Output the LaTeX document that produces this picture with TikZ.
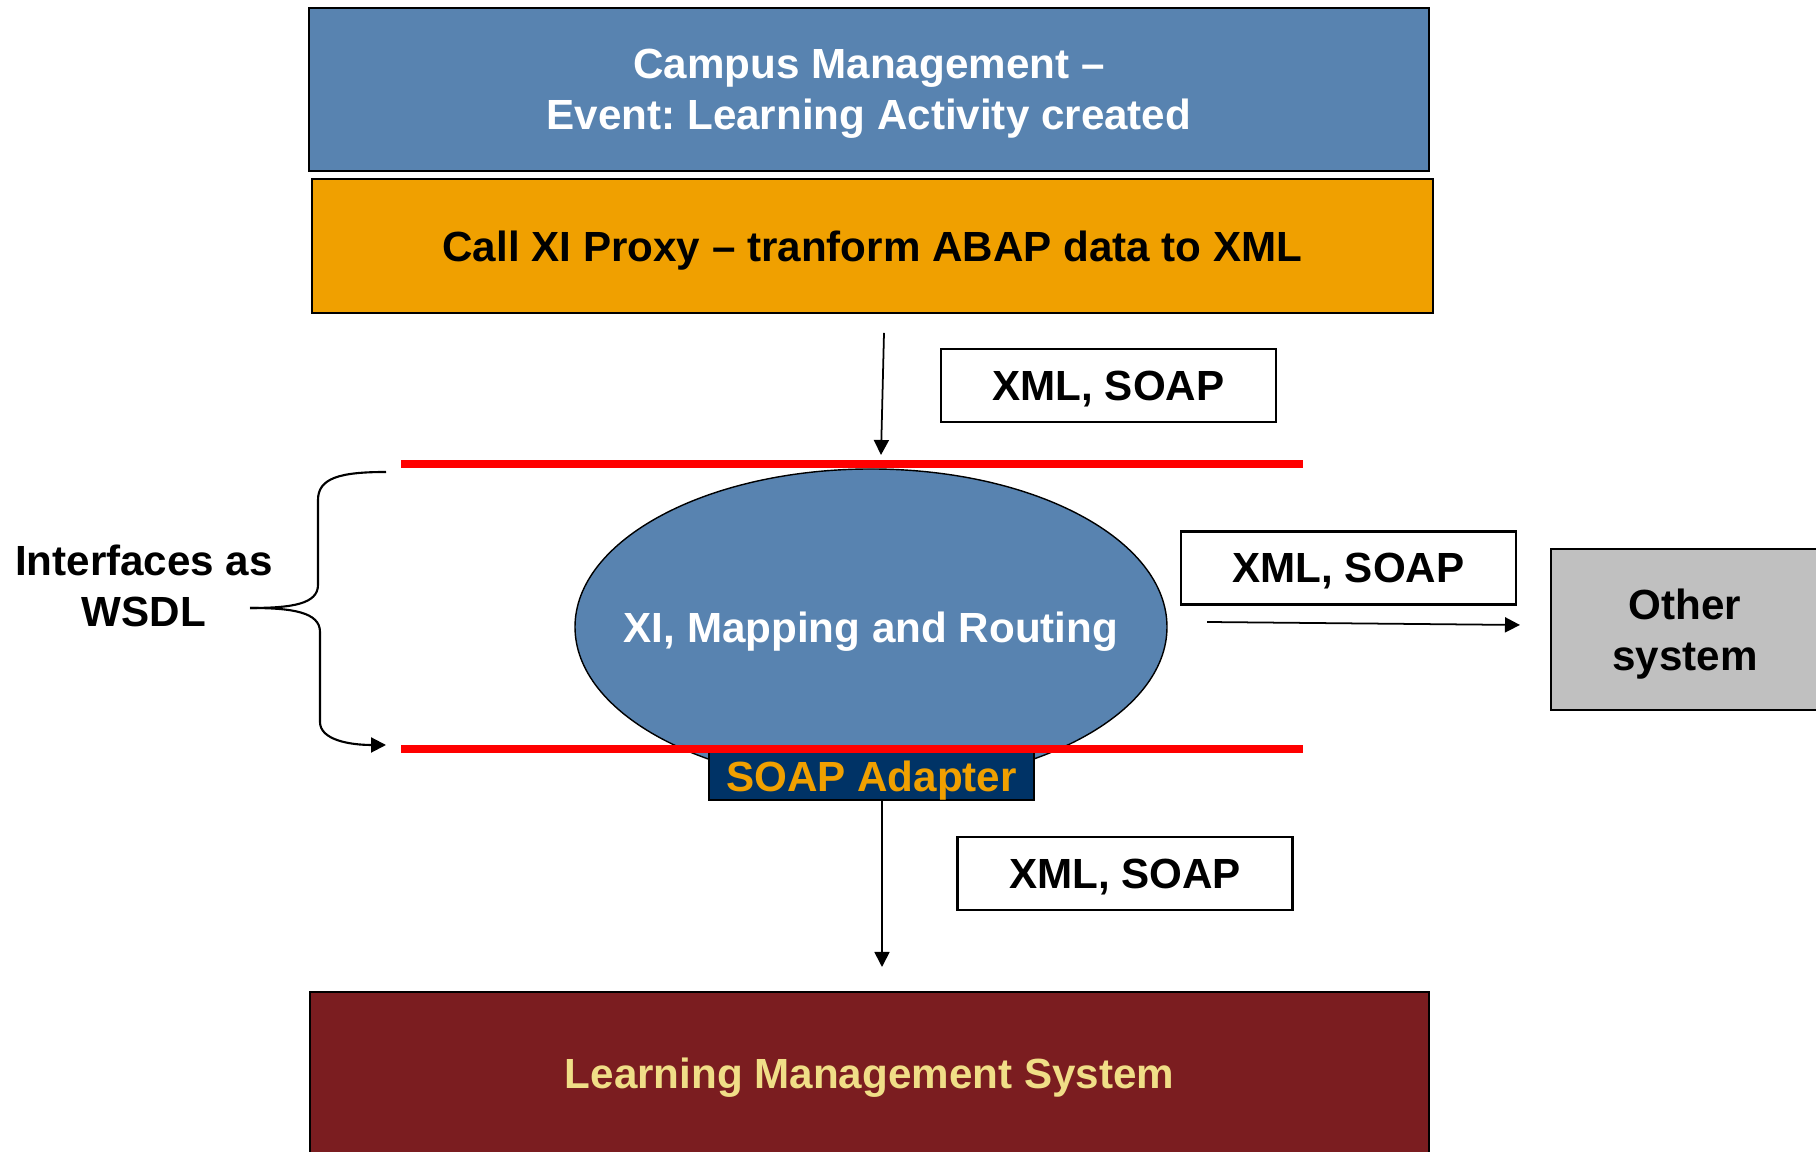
\documentclass[tikz,border=0pt]{standalone}
\usepackage{fontspec}
\setmainfont{Liberation Sans}
\frenchspacing
\usepackage{tikz}
\usetikzlibrary{arrows.meta,calc,positioning,shapes.geometric}
\usepackage{xcolor}
\definecolor{campusblue}{RGB}{88,131,176}
\definecolor{proxyorange}{RGB}{240,160,0}
\definecolor{lmsred}{RGB}{123,29,32}
\definecolor{lmsgold}{RGB}{240,222,135}
\definecolor{soapnavy}{RGB}{0,51,102}
\definecolor{othergray}{RGB}{192,192,192}
\tikzset{
  panel/.style={draw=black, line width=0.8pt, inner sep=0pt, align=center, text depth=0pt},
  tag/.style={panel, fill=white, minimum width=33.5mm, minimum height=7.3mm},
  redline/.style={red, line width=2pt},
  flow/.style={line width=0.5pt, -{Triangle[length=1.5mm,width=1.5mm]}}
}

\begin{document}
\begin{tikzpicture}[x=0.1mm, y=-0.1mm, every node/.style={font=\fontsize{12pt}{14.5pt}\selectfont\bfseries}]
  \useasboundingbox (0,0) rectangle (1816,1152);
  \node[panel, fill=campusblue, text=white, minimum width=112mm, minimum height=16.3mm]
    (campus) at (869,89.5) {Campus Management --\\Event: Learning Activity created};
  \node[panel, fill=proxyorange, minimum width=112.1mm, minimum height=13.4mm]
    (proxy) at (872.5,246) {Call XI Proxy -- tranform ABAP data to XML};
  \node[panel, fill=lmsred, text=lmsgold, minimum width=111.9mm, minimum height=16.3mm]
    (lms) at (869.5,1073.5) {Learning Management System};
  \node[panel, fill=othergray, minimum width=26.8mm, minimum height=16.1mm]
    (other) at (1685,629.5) {Other\\system};
  \foreach \n/\x/\y in {tagA/1108.5/385.5, tagB/1348.5/568, tagC/1125/873.5}
    \node[tag] (\n) at (\x,\y) {XML, SOAP};
  \draw[line width=0.4pt, fill=campusblue] (871,627) ellipse [x radius=29.6mm, y radius=15.8mm];
  \node[text=white, text depth=0pt] (xi) at (871,627) {XI, Mapping and Routing};
  \node[panel, fill=soapnavy, text=proxyorange, minimum width=32.5mm, minimum height=4.8mm]
    (soap) at (871.5,776) {SOAP Adapter};
  \foreach \y in {464,749}
    \draw[redline] (401,\y) -- (1303,\y);
  \node[align=center] (wsdl) at (144,586) {Interfaces as\\WSDL};
  \coordinate (inTop) at (884,333);
  \coordinate (inEnd) at (881,455);
  \coordinate (outEnd) at (882,967);
  \coordinate (outTop) at (soap.south -| outEnd);
  \coordinate (sideStart) at (1207,622);
  \coordinate (sideEnd) at (1520,625);
  \coordinate (braceTop) at (386,472);
  \coordinate (braceTip) at (250,608);
  \coordinate (braceBot) at (386,745);
  \draw[flow] (inTop) -- (inEnd);
  \draw[flow] (outTop) -- (outEnd);
  \draw[flow] (sideStart) -- (sideEnd);
  \draw[line width=0.6pt] (braceTop) .. controls (340,472) and (318,478) .. (318,500)
    -- (318,585) .. controls (318,604) and (292,608) .. (braceTip);
  \draw[flow, line width=0.6pt] (braceTip) .. controls (292,608) and (320,612) .. (320,632)
    -- (320,722) .. controls (320,740) and (350,745) .. (braceBot);
\end{tikzpicture}
\end{document}
